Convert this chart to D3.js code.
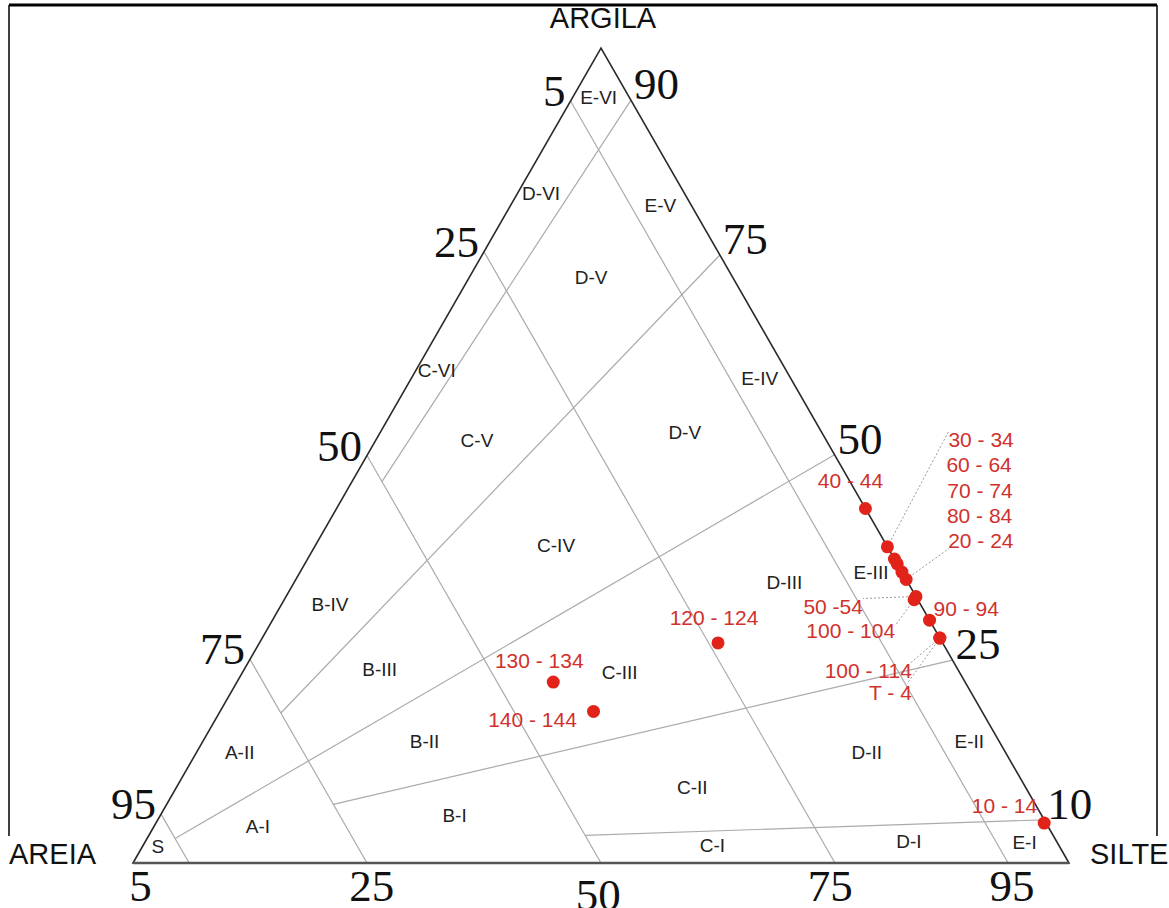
<!DOCTYPE html>
<html>
<head>
<meta charset="utf-8">
<title>Diagrama triangular - ARGILA / AREIA / SILTE</title>
<style>
  html, body { margin: 0; padding: 0; background: #fff; }
  svg { display: block; }
  .region { font-family: "Liberation Sans", Arial, sans-serif; font-size: 19px; fill: #222; }
  .tick { font-family: "Liberation Serif", "Times New Roman", serif; font-size: 45px; fill: #111; }
  .corner { font-family: "Liberation Sans", Arial, sans-serif; font-size: 29px; fill: #111; }
  .sample { font-family: "Liberation Sans", Arial, sans-serif; font-size: 21px; fill: #d0312d; }
</style>
</head>
<body>
<svg id="viz"></svg>
<script src="https://cdn.jsdelivr.net/npm/d3@7/dist/d3.min.js"></script>
<script>
var width = 1169;
var height = 908;

// lines of constant sand (areia) %, parallel to the silte-argila side
var sandLines = [94, 75, 50, 25, 6.5];

// lines of constant clay share of the mud, from a sand line to the right side
var mudLineSandStart = [50, 75, 94, 75, 50];
var mudLineClayStart = [46.8, 18.4, 3.0, 7.2, 3.4];
var mudLineClayEnd = [93.6, 74.6, 50.1, 24.9, 5.3];

// tick labels
var leftTicks = ["95", "75", "50", "25", "5"];
var rightTicks = ["90", "75", "50", "25", "10"];
var bottomTicks = ["5", "25", "50", "75", "95"];
var bottomTickSilt = [0.8, 25.5, 49.7, 74.5, 93.9];

// class names (sand %, clay %)
var regionNames = ["E-VI", "D-VI", "E-V", "D-V", "C-VI", "E-IV", "C-V", "D-V", "C-IV", "D-III",
                   "E-III", "B-IV", "B-III", "C-III", "A-II", "B-II", "D-II", "E-II", "C-II", "A-I",
                   "B-I", "S", "C-I", "D-I", "E-I"];
var regionSand = [3.3, 15.3, 3.3, 15.1, 37.3, 3.3, 37.3, 14.6, 35.3, 13.2,
                  3.3, 63.1, 61.8, 36.3, 81.8, 61.4, 14.8, 3.2, 35.6, 84.4,
                  62.7, 96.3, 37.0, 15.8, 3.5];
var regionClay = [93.9, 82.2, 80.7, 71.9, 60.5, 59.5, 51.9, 52.9, 39.0, 34.4,
                  35.7, 31.7, 23.7, 23.4, 13.6, 14.9, 13.6, 14.9, 9.3, 4.5,
                  5.9, 2.1, 2.2, 2.6, 2.5];

// samples (depth intervals)
var sampleNames = ["40 - 44", "30 - 34", "60 - 64", "70 - 74", "80 - 84", "20 - 24", "50 -54",
                   "100 - 104", "90 - 94", "100 - 114", "T - 4", "120 - 124", "130 - 134",
                   "140 - 144", "10 - 14"];
var sampleSand = [0, 0, 0, 0, 0, 0, 0, 0.4, 0, 0, 0, 24.0, 44.0, 41.5, 0.2];
var sampleClay = [43.5, 38.8, 37.3, 36.7, 35.7, 34.8, 32.7, 32.3, 29.8, 27.6, 27.6, 27.0, 22.2, 18.6, 4.9];

// where each sample label sits relative to its dot (pixels), and leader ends
var labelLayout = {
  "40 - 44":   {dx: -15, dy: -20, anchor: "middle"},
  "30 - 34":   {dx: 61, dy: -100, anchor: "start", leader: [61, -115]},
  "60 - 64":   {dx: 52, dy: -87, anchor: "start"},
  "70 - 74":   {dx: 50, dy: -66, anchor: "start"},
  "80 - 84":   {dx: 45, dy: -49, anchor: "start"},
  "20 - 24":   {dx: 42, dy: -31, anchor: "start", leader: [43, -31]},
  "50 -54":    {dx: -53, dy: 18, anchor: "end", leader: [-53, 2]},
  "100 - 104": {dx: -19, dy: 38, anchor: "end", leader: [-19, 26]},
  "90 - 94":   {dx: 4, dy: -4, anchor: "start"},
  "100 - 114": {dx: -28, dy: 40, anchor: "end", leader: [-33, 28]},
  "T - 4":     {dx: -28, dy: 62, anchor: "end", leader: [-33, 46]},
  "120 - 124": {dx: -4, dy: -18, anchor: "middle"},
  "130 - 134": {dx: -14, dy: -14, anchor: "middle"},
  "140 - 144": {dx: -61, dy: 16, anchor: "middle"},
  "10 - 14":   {dx: -7, dy: -10, anchor: "end"}
};

var svg = d3.select("#viz").attr("width", width).attr("height", height);

// ternary -> screen: x from (silt + clay/2), y from clay
var x = d3.scaleLinear().domain([0, 100]).range([133, 1069]);
var y = d3.scaleLinear().domain([0, 100]).range([863, 48]);

function proj(sand, clay) {
  var silt = 100 - sand - clay;
  return [x(silt + clay / 2), y(clay)];
}

var line = d3.line();

// outer frame (only partly visible in the original scan)
svg.append("line").attr("x1", 9).attr("x2", 1157).attr("y1", 5).attr("y2", 5)
   .attr("stroke", "#000").attr("stroke-width", 3);
svg.append("line").attr("x1", 9).attr("x2", 9).attr("y1", 5).attr("y2", 836)
   .attr("stroke", "#000").attr("stroke-width", 1.5);
svg.append("line").attr("x1", 1157).attr("x2", 1157).attr("y1", 5).attr("y2", 836)
   .attr("stroke", "#000").attr("stroke-width", 1.5);

var grid = svg.append("g").attr("class", "grid")
   .attr("stroke", "#ababab").attr("stroke-width", 1.2).attr("fill", "none");

grid.selectAll("path.sand")
  .data(sandLines)
  .enter().append("path")
  .attr("class", "sand")
  .attr("d", function(a) { return line([proj(a, 0), proj(a, 100 - a)]); });

grid.selectAll("path.mud")
  .data(mudLineSandStart)
  .enter().append("path")
  .attr("class", "mud")
  .attr("d", function(a, i) { return line([proj(a, mudLineClayStart[i]), proj(0, mudLineClayEnd[i])]); });

// triangle
svg.append("path")
  .attr("d", line([proj(100, 0), proj(0, 100), proj(0, 0)]) + "Z")
  .attr("fill", "none").attr("stroke", "#2a2a2a").attr("stroke-width", 1.6)
  .attr("stroke-linejoin", "miter");
svg.append("path")
  .attr("d", line([proj(100, 0), proj(0, 0)]))
  .attr("stroke", "#555").attr("stroke-width", 2.6);

// corner names
var apex = proj(0, 100), left = proj(100, 0), right = proj(0, 0);
svg.append("text").attr("class", "corner").attr("x", apex[0] + 2).attr("y", 28)
   .attr("text-anchor", "middle").text("ARGILA");
svg.append("text").attr("class", "corner").attr("x", 9).attr("y", left[1] + 1)
   .text("AREIA");
svg.append("text").attr("class", "corner").attr("x", right[0] + 21).attr("y", right[1] + 1)
   .text("SILTE");

// tick numbers
svg.selectAll("text.lt")
  .data(leftTicks)
  .enter().append("text")
  .attr("class", "tick lt")
  .attr("text-anchor", "end")
  .attr("x", function(d, i) { var a = sandLines[i]; return proj(a, 100 - a)[0] - 5; })
  .attr("y", function(d, i) { var a = sandLines[i]; return proj(a, 100 - a)[1] + 5; })
  .text(function(d) { return d; });

svg.selectAll("text.rt")
  .data(rightTicks)
  .enter().append("text")
  .attr("class", "tick rt")
  .attr("x", function(d, i) { return proj(0, mudLineClayEnd[i])[0] + 3; })
  .attr("y", function(d, i) { return proj(0, mudLineClayEnd[i])[1] - 1; })
  .text(function(d) { return d; });

svg.selectAll("text.bt")
  .data(bottomTicks)
  .enter().append("text")
  .attr("class", "tick bt")
  .attr("text-anchor", "middle")
  .attr("x", function(d, i) { return x(bottomTickSilt[i]); })
  .attr("y", function(d) { return y(0) + (d === "50" ? 47 : 38); }) // the 50 sits lower in the original
  .text(function(d) { return d; });

// class labels
svg.selectAll("text.region")
  .data(regionNames)
  .enter().append("text")
  .attr("class", "region")
  .attr("text-anchor", "middle")
  .attr("dy", "0.35em")
  .attr("x", function(d, i) { return proj(regionSand[i], regionClay[i])[0]; })
  .attr("y", function(d, i) { return proj(regionSand[i], regionClay[i])[1]; })
  .text(function(d) { return d; });

// samples
var samples = sampleNames.map(function(n, i) {
  var p = proj(sampleSand[i], sampleClay[i]);
  return {name: n, x: p[0], y: p[1], lay: labelLayout[n]};
});

svg.append("g").selectAll("line")
  .data(samples.filter(function(d) { return d.lay.leader; }))
  .enter().append("line")
  .attr("x1", function(d) { return d.x; })
  .attr("y1", function(d) { return d.y; })
  .attr("x2", function(d) { return d.x + d.lay.leader[0]; })
  .attr("y2", function(d) { return d.y + d.lay.leader[1]; })
  .attr("stroke", "#9a9a9a").attr("stroke-width", 1).attr("stroke-dasharray", "2,2");

svg.append("g").selectAll("circle")
  .data(samples)
  .enter().append("circle")
  .attr("cx", function(d) { return d.x; })
  .attr("cy", function(d) { return d.y; })
  .attr("r", 6.5)
  .attr("fill", "#e2231a");

svg.append("g").selectAll("text")
  .data(samples)
  .enter().append("text")
  .attr("class", "sample")
  .attr("text-anchor", function(d) { return d.lay.anchor; })
  .attr("x", function(d) { return d.x + d.lay.dx; })
  .attr("y", function(d) { return d.y + d.lay.dy; })
  .text(function(d) { return d.name; });
</script>
</body>
</html>
